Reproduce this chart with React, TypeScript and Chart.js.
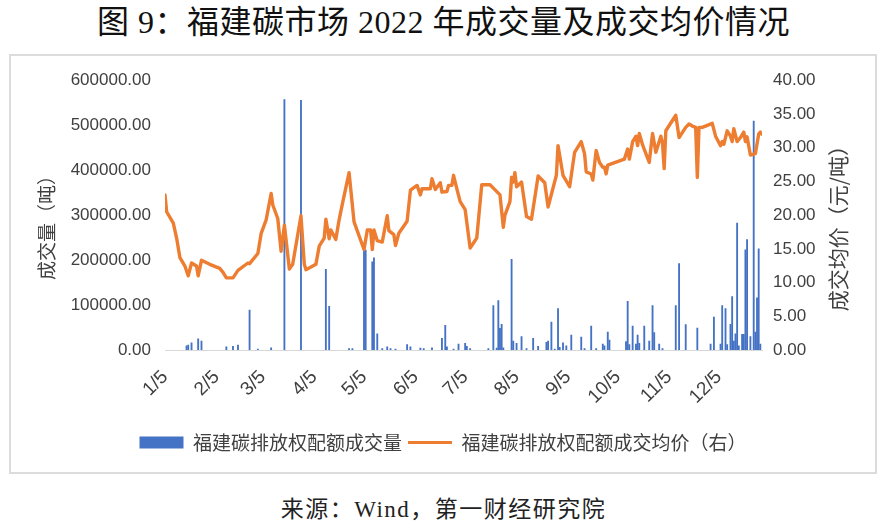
import React, { useEffect, useRef } from "react";
import { Chart, registerables } from "chart.js";

Chart.register(...registerables);

// ---------- data ----------
const TITLE = "图 9：福建碳市场 2022 年成交量及成交均价情况";
const SOURCE = "来源：Wind，第一财经研究院";
const VOLUME_LABEL = "福建碳排放权配额成交量";
const PRICE_LABEL = "福建碳排放权配额成交均价（右）";
const LEFT_TITLE = "成交量（吨）";
const RIGHT_TITLE = "成交均价（元/吨）";

const X_MIN_DATE = "1/5";
const X_MAX_DATE = "12/31";
const X_TICK_LABELS = ["1/5", "2/5", "3/5", "4/5", "5/5", "6/5", "7/5", "8/5", "9/5", "10/5", "11/5", "12/5"];

const LEFT_MAX = 600000;
const LEFT_STEP = 100000;
const RIGHT_MAX = 40;
const RIGHT_STEP = 5;

const PRICE_DATES = [
  "1/5", "1/6", "1/10", "1/12", "1/14", "1/17", "1/19", "1/21", "1/24", "1/25", "1/27",
  "2/1", "2/7", "2/9", "2/11", "2/15", "2/18", "2/24", "2/25",
  "3/2", "3/4", "3/7", "3/10", "3/11", "3/14", "3/16", "3/18", "3/21", "3/23", "3/28", "3/30", "3/31",
  "4/6", "4/8", "4/11", "4/12", "4/14", "4/15", "4/18", "4/20", "4/22", "4/26", "4/29",
  "5/5", "5/7", "5/9", "5/10", "5/11", "5/13", "5/16", "5/19", "5/20", "5/23", "5/24", "5/26", "5/31",
  "6/2", "6/6", "6/8", "6/9", "6/14", "6/15", "6/17", "6/20", "6/21", "6/24", "6/25", "6/27", "6/28", "6/30",
  "7/2", "7/5", "7/8", "7/12", "7/15", "7/20", "7/22", "7/26", "7/28", "7/29",
  "8/1", "8/2", "8/3", "8/4", "8/5", "8/8", "8/11", "8/14", "8/18", "8/22", "8/24", "8/29", "8/30",
  "9/2", "9/6", "9/9", "9/13", "9/15", "9/16", "9/19", "9/20", "9/22", "9/24", "9/26", "9/27", "9/28", "9/29",
  "10/9", "10/11", "10/12", "10/14", "10/16", "10/17", "10/18", "10/20", "10/24", "10/26", "10/28", "10/31",
  "11/1", "11/2", "11/3", "11/9", "11/11", "11/15", "11/17", "11/19", "11/21", "11/22", "11/23", "11/25",
  "12/1", "12/3", "12/6", "12/7", "12/8", "12/10", "12/12", "12/13", "12/14", "12/16", "12/18", "12/20",
  "12/21", "12/22", "12/24", "12/27", "12/29", "12/30", "12/31",
];
const PRICE_VALUES = [
  23.0, 20.5, 18.8, 16.6, 13.7, 12.45, 11.0, 12.9, 12.45, 11.0, 13.3,
  12.7, 12.1, 11.5, 10.7, 10.7, 11.8, 12.9, 12.8,
  14.3, 17.3, 19.3, 23.2, 21.5, 19.5, 14.65, 18.5, 12.0, 12.7, 19.9, 12.7, 11.9,
  12.7, 15.4, 16.6, 19.4, 16.5, 17.8, 16.4, 19.3, 21.7, 26.3, 19.0,
  14.9, 17.8, 17.8, 14.9, 17.8, 16.2, 16.0, 19.9, 17.7, 17.1, 15.5, 17.3, 19.1,
  23.7, 24.4, 23.0, 23.9, 23.9, 25.4, 23.8, 24.8, 23.4, 23.5, 24.4, 24.4, 25.9, 23.9,
  22.0, 20.8, 15.1, 16.6, 24.5, 24.5, 24.0, 23.0, 18.2, 20.0,
  22.0, 25.6, 24.9, 26.3, 24.2, 24.9, 19.8, 19.4, 25.8, 24.8, 21.2, 25.9, 30.3,
  25.9, 24.2, 29.3, 30.9, 29.1, 26.4, 26.1, 25.2, 29.6, 27.8, 27.1, 27.1, 26.1, 27.4,
  28.3, 29.8, 28.3, 30.9, 31.7, 30.3, 32.1, 30.4, 27.8, 32.1, 29.3, 31.7,
  30.7, 26.9, 32.5, 34.8, 31.5, 33.0, 33.5, 33.2, 33.0, 25.6, 33.0, 33.0,
  33.6, 31.7, 30.3, 30.9, 30.5, 32.5, 31.7, 30.9, 32.8, 30.9, 31.5, 32.3,
  30.9, 31.6, 28.9, 29.1, 32.0, 32.3, 32.0,
];

const VOLUME_DATES = [
  "1/18", "1/19", "1/21", "1/25", "1/27", "2/11", "2/15", "2/18", "2/25", "3/2", "3/10", "3/18", "3/28",
  "4/12", "4/14", "4/26", "4/28", "5/5", "5/6", "5/10", "5/11", "5/13", "5/16", "5/19", "5/21", "5/24", "5/31",
  "6/2", "6/8", "6/10", "6/15", "6/21", "6/23", "6/24", "6/28", "7/1", "7/5", "7/6", "7/8", "7/19", "7/22",
  "7/24", "7/25", "7/26", "7/27", "7/28", "8/2", "8/3", "8/5", "8/8", "8/11", "8/15", "8/18", "8/23", "8/24",
  "8/26", "8/28", "8/30", "8/31", "9/2", "9/4", "9/7", "9/13", "9/15", "9/19", "9/22", "9/26", "9/27", "9/29",
  "9/30", "10/10", "10/11", "10/12", "10/14", "10/16", "10/17", "10/18", "10/21", "10/24", "10/26", "10/27",
  "10/30", "11/1", "11/9", "11/11", "11/15", "11/22", "11/30", "12/2", "12/6", "12/7", "12/9", "12/10",
  "12/12", "12/13", "12/14", "12/15", "12/16", "12/17", "12/19", "12/20", "12/21", "12/22", "12/24",
  "12/26", "12/27", "12/28", "12/29", "12/30",
];
const VOLUME_VALUES = [
  9000, 11000, 16000, 25000, 20000, 7000, 8000, 11000, 89000, 2000, 5000, 557000, 555000,
  179500, 97000, 3000, 3000, 222000, 222000, 196000, 205000, 36000, 3000, 7000, 3000, 2000, 12000,
  7000, 4000, 3000, 5000, 26000, 55000, 7000, 2000, 13000, 15000, 8000, 3000, 3000, 99000,
  4000, 110000, 48000, 57000, 5000, 201500, 20000, 15000, 30000, 3000, 26000, 8000, 17000, 20000,
  62000, 2000, 92000, 6000, 16000, 9000, 33000, 29000, 3000, 53000, 3000, 13000, 9000, 40000,
  22000, 19000, 108000, 12000, 53000, 13000, 33000, 15000, 53000, 20000, 99000, 39000,
  13000, 3000, 99000, 192000, 56500, 49000, 13000, 73000, 13000, 99000, 92000, 12000,
  57000, 119000, 20000, 36000, 282000, 9000, 35000, 35000, 223000, 245500, 30000,
  509000, 40000, 116000, 225000, 13000,
];

// ---------- helpers ----------
const MONTH_START = [0, 31, 59, 90, 120, 151, 181, 212, 243, 273, 304, 334];
function dayOfYear(md: string): number {
  const [m, d] = md.split("/").map(Number);
  return MONTH_START[m - 1] + d;
}

const BLUE = "#4472C4";
const ORANGE = "#ED7D31";
const TEXT = "#404040";
const TICK_FONT = { family: '"Liberation Sans", Arial, sans-serif', size: 17 };
const X_TICK_FONT = { family: '"Liberation Sans", Arial, sans-serif', size: 19 };

const axisTitlePlugin = {
  id: "axisTitles",
  afterDraw(chart: any) {
    const ctx = chart.ctx;
    const draw = (text: string, x: number, y: number, size: number) => {
      ctx.save();
      ctx.translate(x, y);
      ctx.rotate(-Math.PI / 2);
      ctx.textAlign = "center";
      ctx.textBaseline = "middle";
      ctx.font = `${size}px "Noto Sans CJK SC"`;
      ctx.fillStyle = TEXT;
      ctx.fillText(text, 0, 0);
      ctx.restore();
    };
    const area = chart.chartArea;
    const midY = (area.top + area.bottom) / 2;
    draw(LEFT_TITLE, 36, midY + 8, 19);
    draw(RIGHT_TITLE, area.right + 76, midY + 8, 21);
  },
};

export default function App() {
  const canvasRef = useRef<HTMLCanvasElement | null>(null);

  useEffect(() => {
    const canvas = canvasRef.current;
    if (!canvas) return;
    const tickDays = X_TICK_LABELS.map(dayOfYear);
    const labelByDay: Record<number, string> = {};
    X_TICK_LABELS.forEach((l, i) => (labelByDay[tickDays[i]] = l));

    const chart = new Chart(canvas, {
      type: "bar",
      data: {
        datasets: [
          {
            type: "bar",
            label: VOLUME_LABEL,
            data: VOLUME_DATES.map((d, i) => ({ x: dayOfYear(d), y: VOLUME_VALUES[i] })),
            backgroundColor: BLUE,
            borderWidth: 0,
            barThickness: 1.2,
            yAxisID: "y",
            order: 1,
          } as any,
          {
            type: "line",
            label: PRICE_LABEL,
            data: PRICE_DATES.map((d, i) => ({ x: dayOfYear(d), y: PRICE_VALUES[i] })),
            borderColor: ORANGE,
            backgroundColor: ORANGE,
            borderWidth: 3.4,
            pointRadius: 0,
            tension: 0,
            borderJoinStyle: "round",
            borderCapStyle: "round",
            yAxisID: "y1",
            order: 0,
          } as any,
        ],
      },
      options: {
        responsive: false,
        animation: false,
        layout: { padding: { top: 21, left: 0, right: 0, bottom: 10 } },
        plugins: {
          tooltip: { enabled: false },
          title: { display: false },
          legend: {
            position: "bottom",
            labels: {
              usePointStyle: true,
              pointStyleWidth: 44,
              boxHeight: 12,
              padding: 6,
              color: TEXT,
              font: { family: '"Noto Sans CJK SC"', size: 19 },
              sort: (a: any, b: any) => a.datasetIndex - b.datasetIndex,
              generateLabels: (c: any) => {
                const items = (Chart.defaults.plugins.legend.labels as any).generateLabels(c);
                items.forEach((it: any) => {
                  if (it.datasetIndex === 0) {
                    it.pointStyle = "rect";
                    it.lineWidth = 0;
                    it.fillStyle = BLUE;
                  } else {
                    it.pointStyle = "line";
                    it.lineWidth = 3;
                    it.strokeStyle = ORANGE;
                  }
                });
                return items;
              },
            },
          },
        },
        scales: {
          x: {
            type: "linear",
            offset: false,
            min: dayOfYear(X_MIN_DATE),
            max: dayOfYear(X_MAX_DATE),
            grid: { display: false, drawTicks: false },
            border: { display: true, color: "#d9d9d9", width: 1 },
            afterBuildTicks: (scale: any) => {
              scale.ticks = tickDays.map((v) => ({ value: v }));
            },
            afterFit: (scale: any) => {
              scale.height = 77;
            },
            ticks: {
              autoSkip: false,
              minRotation: 45,
              maxRotation: 45,
              padding: 16,
              color: TEXT,
              font: X_TICK_FONT,
              callback: (v: any) => labelByDay[v] ?? "",
            },
          },
          y: {
            type: "linear",
            position: "left",
            min: 0,
            max: LEFT_MAX,
            grid: { display: false, drawTicks: false },
            border: { display: false },
            afterFit: (scale: any) => {
              scale.width = 154;
            },
            ticks: {
              stepSize: LEFT_STEP,
              padding: 14,
              color: TEXT,
              font: TICK_FONT,
              callback: (v: any) => Number(v).toFixed(2),
            },
          },
          y1: {
            type: "linear",
            position: "right",
            min: 0,
            max: RIGHT_MAX,
            grid: { display: false, drawTicks: false },
            border: { display: false },
            afterFit: (scale: any) => {
              scale.width = 113;
            },
            ticks: {
              stepSize: RIGHT_STEP,
              padding: 11,
              color: TEXT,
              font: TICK_FONT,
              callback: (v: any) => Number(v).toFixed(2),
            },
          },
        },
      } as any,
      plugins: [axisTitlePlugin],
    });
    return () => chart.destroy();
  }, []);

  return (
    <div
      style={{
        position: "fixed",
        left: 0,
        top: 0,
        width: 887,
        height: 531,
        background: "#ffffff",
        overflow: "hidden",
      }}
    >
      <div
        style={{
          position: "absolute",
          left: 0,
          top: 0,
          width: 887,
          height: 44,
          lineHeight: "44px",
          textAlign: "center",
          fontFamily: '"Liberation Serif", "Noto Sans CJK SC", serif',
          fontSize: 32,
          letterSpacing: 0.5,
          color: "#111111",
          whiteSpace: "nowrap",
        }}
      >
        {TITLE}
      </div>
      <div
        style={{
          position: "absolute",
          left: 9,
          top: 54,
          width: 864,
          height: 416,
          border: "2px solid #dcdcdc",
        }}
      >
        <canvas ref={canvasRef} width={864} height={416} style={{ display: "block", width: 864, height: 416 }} />
      </div>
      <div
        style={{
          position: "absolute",
          left: 0,
          top: 495,
          width: 887,
          height: 30,
          lineHeight: "30px",
          textAlign: "center",
          fontFamily: '"Liberation Serif", "Noto Sans CJK SC", serif',
          fontSize: 23,
          letterSpacing: 1.5,
          color: "#222222",
          whiteSpace: "nowrap",
        }}
      >
        {SOURCE}
      </div>
    </div>
  );
}
